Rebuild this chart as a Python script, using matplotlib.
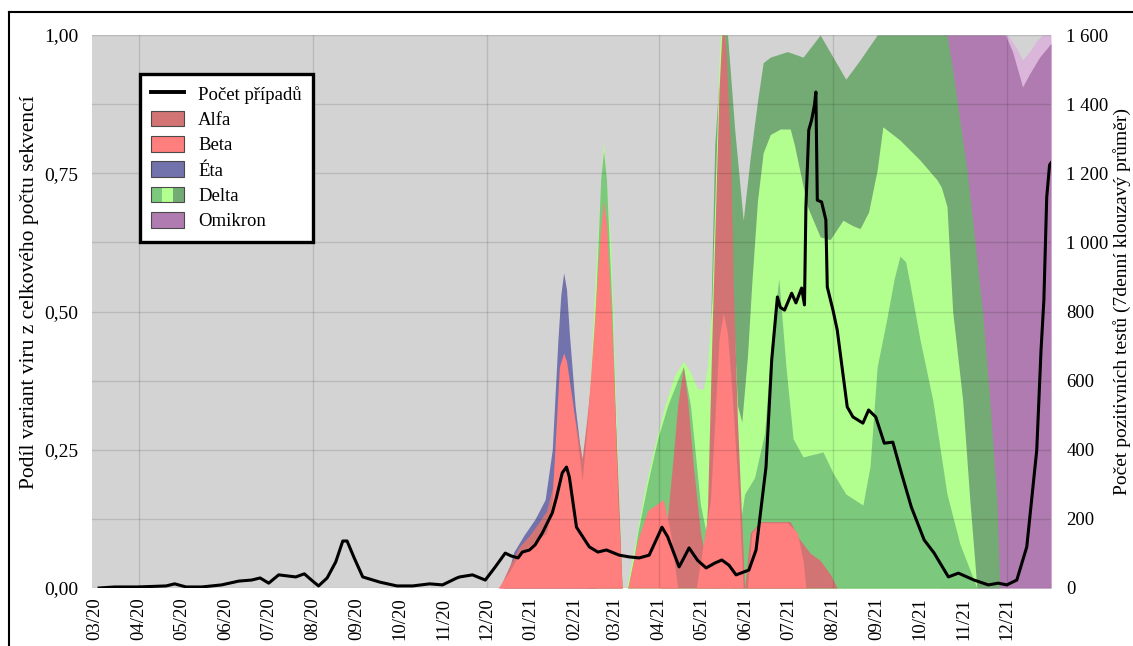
import matplotlib

matplotlib.use("Agg")
import matplotlib.pyplot as plt
import matplotlib.ticker as mticker
import matplotlib.dates as mdates
import pandas as pd
from matplotlib.legend_handler import HandlerBase
from matplotlib.lines import Line2D
from matplotlib.patches import Patch, Rectangle

plt.rcParams.update({"font.family": "Liberation Serif", "font.size": 13})

BG = "#D3D3D3"
ALFA_C = "#D27474"
BETA_C = "#FF7E7E"
ETA_C = "#7272AC"
DELTA_MID = "#7CC87C"
DELTA_LIME = "#B2FF8F"
DELTA_DARK = "#74AB74"
OMI_C = "#B07BB0"
OMI_LIGHT = "#DAB6DA"
EDGE = "#4A4A4A"

# ── počet případů (7denní průměr) ────────────────────────────────────────────
case_dates = [
    "2020-03-04", "2020-03-15", "2020-03-31", "2020-04-20", "2020-04-26",
    "2020-05-04", "2020-05-15", "2020-05-29", "2020-06-10", "2020-06-19",
    "2020-06-25", "2020-07-01", "2020-07-08", "2020-07-20", "2020-07-26",
    "2020-07-31", "2020-08-05", "2020-08-11", "2020-08-17", "2020-08-22",
    "2020-08-25", "2020-08-30", "2020-09-05", "2020-09-17", "2020-09-29",
    "2020-10-10", "2020-10-22", "2020-10-31", "2020-11-10", "2020-11-12",
    "2020-11-21", "2020-11-30", "2020-12-07", "2020-12-14", "2020-12-18",
    "2020-12-23", "2020-12-26", "2020-12-31", "2021-01-04", "2021-01-09",
    "2021-01-16", "2021-01-19", "2021-01-23", "2021-01-26", "2021-01-28",
    "2021-02-02", "2021-02-11", "2021-02-17", "2021-02-23", "2021-03-04",
    "2021-03-11", "2021-03-18", "2021-03-25", "2021-04-03", "2021-04-07",
    "2021-04-15", "2021-04-19", "2021-04-22", "2021-04-28", "2021-05-04",
    "2021-05-10", "2021-05-15", "2021-05-20", "2021-05-25", "2021-06-03",
    "2021-06-08", "2021-06-15", "2021-06-19", "2021-06-23", "2021-06-25",
    "2021-06-28", "2021-07-03", "2021-07-06", "2021-07-10", "2021-07-12",
    "2021-07-13", "2021-07-15", "2021-07-17", "2021-07-19", "2021-07-20",
    "2021-07-21", "2021-07-24", "2021-07-27", "2021-07-28", "2021-08-01",
    "2021-08-04", "2021-08-11", "2021-08-15", "2021-08-22", "2021-08-26",
    "2021-08-31", "2021-09-06", "2021-09-12", "2021-09-18", "2021-09-25",
    "2021-10-04", "2021-10-11", "2021-10-21", "2021-10-28", "2021-11-08",
    "2021-11-18", "2021-11-25", "2021-12-01", "2021-12-08", "2021-12-15",
    "2021-12-22", "2021-12-25", "2021-12-27", "2021-12-29", "2021-12-31",
    "2022-01-01",
]
case_vals = [
    0, 3, 3, 6, 12, 3, 3, 9, 20, 23,
    29, 14, 38, 32, 41, 23, 6, 29, 75, 136,
    136, 87, 32, 17, 6, 6, 12, 9, 29, 32,
    38, 23, 61, 101, 93, 87, 104, 110, 125, 159,
    217, 263, 333, 350, 321, 176, 119, 104, 110, 95,
    90, 87, 95, 176, 148, 61, 92, 116, 80, 58,
    72, 81, 66, 38, 52, 110, 350, 660, 842, 812,
    804, 853, 825, 868, 819, 1102, 1325, 1354, 1397, 1435,
    1122, 1117, 1065, 871, 804, 746, 524, 495, 477, 515,
    495, 419, 422, 333, 234, 139, 101, 32, 43, 23,
    9, 14, 9, 23, 119, 399, 688, 833, 1131, 1224,
    1230,
]

# ── podíly variant ───────────────────────────────────────────────────────────
beta_dates = [
    "2020-12-09", "2020-12-17", "2020-12-24", "2021-01-02", "2021-01-12",
    "2021-01-16", "2021-01-18", "2021-01-21", "2021-01-24", "2021-01-26",
    "2021-01-30", "2021-02-02", "2021-02-06", "2021-02-09", "2021-02-14",
    "2021-02-17", "2021-02-19", "2021-02-21", "2021-02-23", "2021-02-26",
    "2021-02-28", "2021-03-03", "2021-03-06", "2021-03-10", "2021-03-17",
    "2021-03-24", "2021-04-04", "2021-04-09", "2021-04-14", "2021-04-27",
    "2021-05-02", "2021-05-07", "2021-05-10", "2021-05-13", "2021-05-16",
    "2021-05-19", "2021-05-22", "2021-05-27", "2021-05-30", "2021-06-02",
    "2021-06-05", "2021-06-11", "2021-06-30", "2021-07-07", "2021-07-11",
    "2021-07-13",
]
beta_share = [
    0, 0.03, 0.063, 0.08, 0.10, 0.16, 0.26, 0.40, 0.425, 0.41,
    0.34, 0.28, 0.195, 0.28, 0.46, 0.58, 0.65, 0.70, 0.66, 0.52,
    0.40, 0.16, 0, 0, 0.087, 0.14, 0.16, 0.10, 0, 0,
    0.08, 0.16, 0.30, 0.45, 0.497, 0.46, 0.36, 0.16, 0, 0,
    0.10, 0.118, 0.118, 0.10, 0.05, 0,
]

alfa_dates = [
    "2020-12-10", "2020-12-17", "2020-12-24", "2020-12-31", "2021-01-07",
    "2021-01-12", "2021-01-16", "2021-01-20", "2021-01-24", "2021-01-29",
    "2021-02-02", "2021-02-06", "2021-02-09", "2021-02-15", "2021-02-21",
    "2021-02-26", "2021-03-03", "2021-03-06", "2021-04-02", "2021-04-07",
    "2021-04-11", "2021-04-14", "2021-04-18", "2021-04-21", "2021-04-25",
    "2021-04-30", "2021-05-03", "2021-05-05", "2021-05-08", "2021-05-11",
    "2021-05-13", "2021-05-15", "2021-05-17", "2021-05-18", "2021-05-21",
    "2021-05-23", "2021-05-26", "2021-05-29", "2021-05-31", "2021-06-04",
    "2021-06-11", "2021-07-02", "2021-07-08", "2021-07-16", "2021-07-23",
    "2021-07-30", "2021-08-04",
]
alfa_share = [
    0, 0.04, 0.075, 0.095, 0.12, 0.14, 0.18, 0.30, 0.38, 0.35,
    0.29, 0.235, 0.30, 0.45, 0.60, 0.50, 0.20, 0, 0, 0.13,
    0.24, 0.33, 0.40, 0.34, 0.22, 0.10, 0.06, 0.15, 0.45, 0.72,
    0.90, 1.0, 1.0, 0.97, 0.80, 0.55, 0.30, 0.12, 0, 0.10,
    0.12, 0.12, 0.09, 0.063, 0.05, 0.025, 0,
]

eta_dates = [
    "2020-12-13", "2020-12-20", "2020-12-27", "2021-01-04", "2021-01-11",
    "2021-01-16", "2021-01-18", "2021-01-20", "2021-01-22", "2021-01-24",
    "2021-01-26", "2021-01-28", "2021-02-01", "2021-02-06", "2021-02-11",
    "2021-02-15",
]
eta_share = [
    0, 0.065, 0.095, 0.125, 0.16, 0.25, 0.35, 0.45, 0.53, 0.57,
    0.54, 0.46, 0.33, 0.22, 0.18, 0,
]

delta_mid_dates = [
    "2021-02-09", "2021-02-13", "2021-02-16", "2021-02-19", "2021-02-21",
    "2021-02-23", "2021-02-27", "2021-03-03", "2021-03-06", "2021-03-10",
    "2021-03-14", "2021-03-17", "2021-03-24", "2021-03-31", "2021-04-07",
    "2021-04-14", "2021-04-18", "2021-04-23", "2021-04-30", "2021-05-08",
    "2021-05-14", "2021-05-21", "2021-05-24", "2021-05-28", "2021-05-31",
    "2021-06-07", "2021-06-14", "2021-06-19", "2021-06-24", "2021-06-29",
    "2021-07-04", "2021-07-11", "2021-07-25", "2021-08-01", "2021-08-10",
    "2021-08-22", "2021-08-27", "2021-09-01", "2021-09-08", "2021-09-13",
    "2021-09-17", "2021-09-21", "2021-09-24", "2021-10-01", "2021-10-10",
    "2021-10-20", "2021-10-29", "2021-11-10",
]
delta_mid_share = [
    0, 0.3, 0.55, 0.74, 0.79, 0.74, 0.5, 0.17, 0, 0,
    0.05, 0.10, 0.19, 0.27, 0.33, 0.376, 0.40, 0.33, 0.15, 0.05,
    0, 0, 0.05, 0.12, 0.17, 0.20, 0.28, 0.45, 0.56, 0.40,
    0.27, 0.237, 0.246, 0.208, 0.17, 0.15, 0.22, 0.40, 0.49, 0.56,
    0.60, 0.59, 0.55, 0.45, 0.34, 0.17, 0.08, 0,
]

delta_lime_dates = [
    "2021-02-05", "2021-02-09", "2021-02-16", "2021-02-21", "2021-02-26",
    "2021-03-02", "2021-03-06", "2021-03-09", "2021-03-15", "2021-03-22",
    "2021-03-29", "2021-04-05", "2021-04-12", "2021-04-18", "2021-04-23",
    "2021-04-28", "2021-05-02", "2021-05-05", "2021-05-08", "2021-05-11",
    "2021-05-13", "2021-05-14", "2021-05-17", "2021-05-19", "2021-05-23",
    "2021-05-26", "2021-05-29", "2021-06-02", "2021-06-05", "2021-06-09",
    "2021-06-13", "2021-06-18", "2021-06-25", "2021-07-02", "2021-07-05",
    "2021-07-14", "2021-07-23", "2021-07-30", "2021-08-08", "2021-08-15",
    "2021-08-20", "2021-08-26", "2021-09-01", "2021-09-05", "2021-09-17",
    "2021-10-01", "2021-10-13", "2021-10-16", "2021-10-20", "2021-10-24",
    "2021-10-31", "2021-11-05", "2021-11-10",
]
delta_lime_share = [
    0, 0.25, 0.6, 0.81, 0.62, 0.3, 0, 0, 0.08, 0.18,
    0.26, 0.33, 0.385, 0.41, 0.39, 0.36, 0.36, 0.40, 0.52, 0.78,
    0.95, 1.0, 1.0, 0.8, 0.5, 0.33, 0.30, 0.42, 0.55, 0.70,
    0.787, 0.82, 0.83, 0.83, 0.80, 0.69, 0.635, 0.63, 0.665, 0.655,
    0.65, 0.68, 0.756, 0.834, 0.81, 0.774, 0.738, 0.725, 0.69, 0.50,
    0.34, 0.16, 0,
]

delta_dark_dates = [
    "2021-05-03", "2021-05-10", "2021-05-15", "2021-05-19", "2021-05-24",
    "2021-05-30", "2021-06-04", "2021-06-09", "2021-06-13", "2021-06-18",
    "2021-06-30", "2021-07-11", "2021-07-23", "2021-08-01", "2021-08-10",
    "2021-08-20", "2021-09-01", "2021-10-20", "2021-10-24", "2021-10-29",
    "2021-11-03", "2021-11-07", "2021-11-12", "2021-11-14", "2021-11-19",
    "2021-11-24", "2021-11-26",
]
delta_dark_share = [
    0, 0.8, 1.0, 1.0, 0.83, 0.665, 0.78, 0.88, 0.95, 0.96,
    0.97, 0.96, 1.0, 0.96, 0.92, 0.955, 1.0, 1.0, 0.937, 0.846,
    0.756, 0.665, 0.544, 0.50, 0.34, 0.16, 0,
]

omi_dates = [
    "2021-10-15", "2021-10-18", "2021-11-30", "2021-12-05", "2021-12-10",
    "2021-12-12", "2021-12-17", "2021-12-24", "2022-01-01",
]
omi_share = [0, 1.0, 1.0, 0.97, 0.925, 0.906, 0.93, 0.96, 0.985]

omi2_dates = [
    "2021-11-26", "2021-11-30", "2021-12-03", "2021-12-08", "2021-12-12",
    "2021-12-17", "2021-12-22", "2021-12-26", "2022-01-01",
]
omi2_share = [0, 1.0, 0.995, 0.975, 0.955, 0.97, 0.99, 1.0, 1.0]

month_ticks = pd.date_range("2020-03-01", "2021-12-01", freq="MS")


class DeltaHandler(HandlerBase):
    """Legendový symbol Delty – tři svislé pruhy."""

    def create_artists(self, legend, orig_handle, xdescent, ydescent,
                       width, height, fontsize, trans):
        w = width / 3
        arts = []
        for i, c in enumerate([DELTA_MID, DELTA_LIME, DELTA_DARK]):
            arts.append(Rectangle((-xdescent + i * w, -ydescent), w, height,
                                  facecolor=c, edgecolor="none", transform=trans))
        arts.append(Rectangle((-xdescent, -ydescent), width, height,
                              facecolor="none", edgecolor=EDGE, lw=0.8,
                              transform=trans))
        return arts


fig = plt.figure(figsize=(11.33, 6.46), dpi=100)
ax = fig.add_axes([92 / 1133, 1 - 588 / 646, (1051 - 92) / 1133, (588 - 35) / 646])
ax.set_facecolor(BG)

# vrstvy se kreslí od nejvyšší po nejnižší, každá od nuly
layers = [
    (omi2_dates, omi2_share, OMI_LIGHT),
    (omi_dates, omi_share, OMI_C),
    (delta_dark_dates, delta_dark_share, DELTA_DARK),
    (delta_lime_dates, delta_lime_share, DELTA_LIME),
    (delta_mid_dates, delta_mid_share, DELTA_MID),
    (eta_dates, eta_share, ETA_C),
    (alfa_dates, alfa_share, ALFA_C),
    (beta_dates, beta_share, BETA_C),
]
for dates, share, color in layers:
    ax.fill_between(pd.to_datetime(dates), 0, share, color=color, lw=0, zorder=1)

ax.set_xlim(pd.Timestamp("2020-02-28"), pd.Timestamp("2022-01-01"))
ax.set_ylim(0, 1)
ax.set_xticks(month_ticks)
ax.xaxis.set_major_formatter(mdates.DateFormatter("%m/%y"))
ax.xaxis.set_minor_locator(mdates.MonthLocator(bymonth=(4, 8, 12)))
ax.xaxis.remove_overlapping_locs = False
ax.set_yticks([0, 0.25, 0.5, 0.75, 1.0])
ax.yaxis.set_minor_locator(mticker.MultipleLocator(0.125))
ax.yaxis.set_major_formatter(
    mticker.FuncFormatter(lambda v, _: f"{v:.2f}".replace(".", ","))
)
ax.set_axisbelow(False)
grid_kw = dict(color="black", alpha=0.12, lw=1.0)
ax.yaxis.grid(True, which="both", **grid_kw)
ax.xaxis.grid(True, which="minor", **grid_kw)
ax.tick_params(axis="x", which="both", length=0, pad=7, rotation=90, labelsize=13.5)
ax.tick_params(axis="y", which="both", length=0, pad=10, labelsize=14)
for s in ax.spines.values():
    s.set_visible(False)

ax2 = ax.twinx()
ax2.plot(pd.to_datetime(case_dates), case_vals, color="black", lw=2.2)
ax2.set_ylim(0, 1600)
ax2.set_yticks(range(0, 1601, 200))
ax2.yaxis.set_major_formatter(
    mticker.FuncFormatter(lambda v, _: f"{int(v):,}".replace(",", " "))
)
ax2.tick_params(axis="y", length=0, pad=11, labelsize=13.5)
for s in ax2.spines.values():
    s.set_visible(False)

fig.text(30 / 1133, 1 - 292 / 646, "Podíl variant viru z celkového počtu sekvencí",
         rotation=90, ha="center", va="center", fontsize=15.5)
fig.text(1122 / 1133, 1 - 301 / 646, "Počet pozitivních testů (7denní klouzavý průměr)",
         rotation=90, ha="center", va="center", fontsize=14)

delta_handle = Patch()
handles = [
    Line2D([], [], color="black", lw=2.8),
    Patch(facecolor=ALFA_C, edgecolor=EDGE, lw=0.8),
    Patch(facecolor=BETA_C, edgecolor=EDGE, lw=0.8),
    Patch(facecolor=ETA_C, edgecolor=EDGE, lw=0.8),
    delta_handle,
    Patch(facecolor=OMI_C, edgecolor=EDGE, lw=0.8),
]
labels = ["Počet případů", "Alfa", "Beta", "Éta", "Delta", "Omikron"]
leg = fig.legend(
    handles, labels, loc="upper left", bbox_to_anchor=(140 / 1133, 1 - 74 / 646),
    handler_map={delta_handle: DeltaHandler()}, fontsize=13.5, frameon=True,
    fancybox=False, edgecolor="black", framealpha=1, borderaxespad=0,
    borderpad=0.6, handlelength=1.76, handleheight=0.9, handletextpad=0.75,
    labelspacing=0.38,
)
leg.get_frame().set_linewidth(2.4)

# rámeček kolem celého obrázku
fig.add_artist(Line2D([9 / 1133, 1.0], [1 - 12 / 646] * 2, transform=fig.transFigure,
                      color="black", lw=1.5))
fig.add_artist(Line2D([9 / 1133] * 2, [0, 1 - 12 / 646], transform=fig.transFigure,
                      color="black", lw=1.5))

fig.savefig("out.png", dpi=100)
